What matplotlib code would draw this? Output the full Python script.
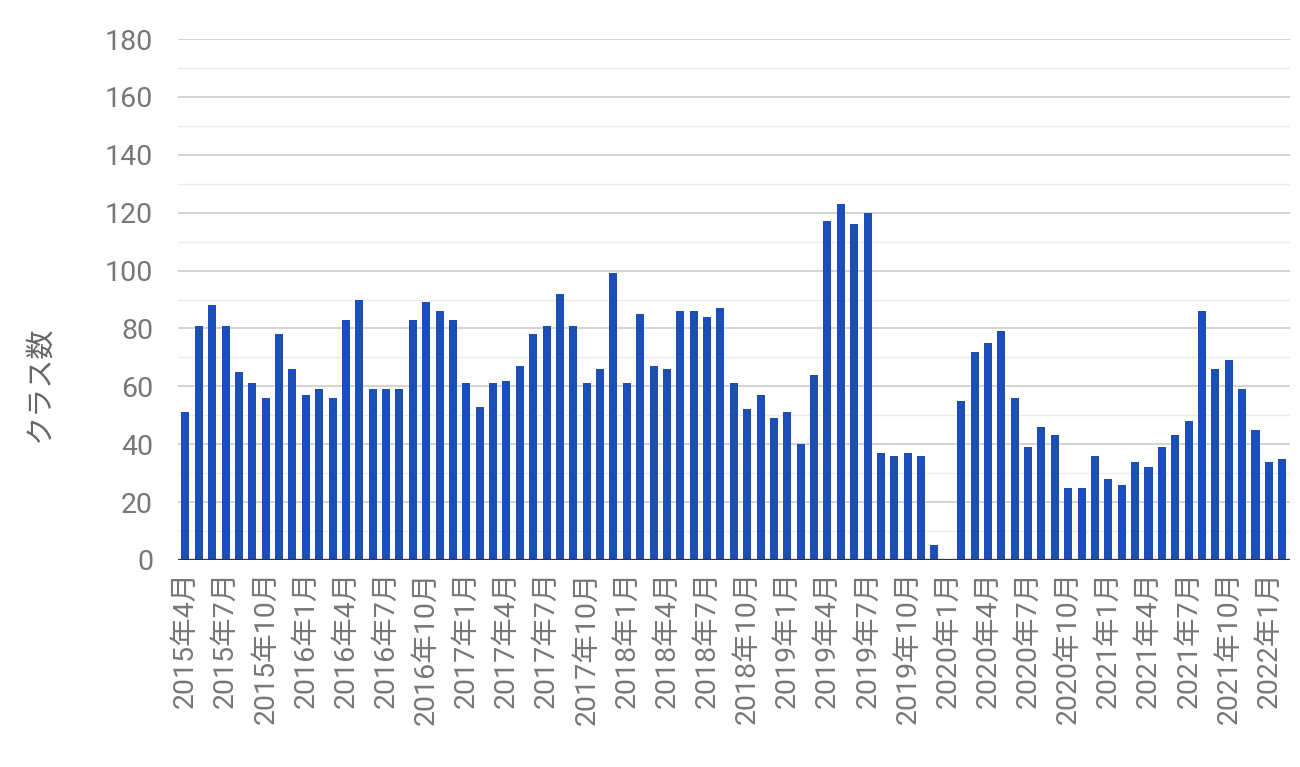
import matplotlib
matplotlib.use("Agg")
import matplotlib.pyplot as plt
from matplotlib.ticker import MultipleLocator

# --- data ---
start_year = 2015
start_month = 4
months = []
y, m = start_year, start_month
for _ in range(83):
    months.append(f"{y}年{m}月")
    m += 1
    if m > 12:
        m = 1
        y += 1

class_counts = [
    51, 81, 88, 81, 65, 61, 56, 78, 66, 57, 59, 56,
    83, 90, 59, 59, 59, 83, 89, 86, 83, 61, 53, 61,
    62, 67, 78, 81, 92, 81, 61, 66, 99, 61, 85, 67,
    66, 86, 86, 84, 87, 61, 52, 57, 49, 51, 40, 64,
    117, 123, 116, 120, 37, 36, 37, 36, 5, 0, 55, 72,
    75, 79, 56, 39, 46, 43, 25, 25, 36, 28, 26, 34,
    32, 39, 43, 48, 86, 66, 69, 59, 45, 34, 35,
]
y_label = "クラス数"

# --- style ---
bar_color = "#1c4eb8"
text_color = "#777777"
fonts = ["Roboto", "Noto Sans CJK JP", "DejaVu Sans"]

fig = plt.figure(figsize=(13, 7.67), dpi=100)
ax = fig.add_axes([0.137, 0.270, 0.855, 0.679])

x = list(range(len(class_counts)))
ax.bar(x, class_counts, width=0.6, color=bar_color, zorder=3)

ax.set_ylim(0, 180)
ax.set_xlim(-0.55, len(class_counts) - 0.45)
ax.yaxis.set_major_locator(MultipleLocator(20))
ax.yaxis.set_minor_locator(MultipleLocator(10))
ax.grid(axis="y", which="major", color="#cccccc", linewidth=1.2, zorder=0)
ax.grid(axis="y", which="minor", color="#ebebeb", linewidth=1.0, zorder=0)
ax.axhline(0, color="#333333", linewidth=1.6, zorder=4)

for s in ax.spines.values():
    s.set_visible(False)

ax.tick_params(axis="y", which="both", length=0, pad=18, labelcolor=text_color)
ax.tick_params(axis="x", which="both", length=0, pad=8, labelcolor=text_color)

for lab in ax.get_yticklabels():
    lab.set_family(fonts)
    lab.set_fontsize(20.5)

tick_pos = x[::3]
ax.set_xticks(tick_pos)
ax.set_xticklabels([months[i] for i in tick_pos], rotation=90, family=fonts,
                   fontsize=20.5, color=text_color)

ax.set_ylabel(y_label, family=fonts, fontsize=21, color="#666666")
ax.yaxis.set_label_coords(-0.112, 0.336)

fig.savefig("out.png", dpi=100)
